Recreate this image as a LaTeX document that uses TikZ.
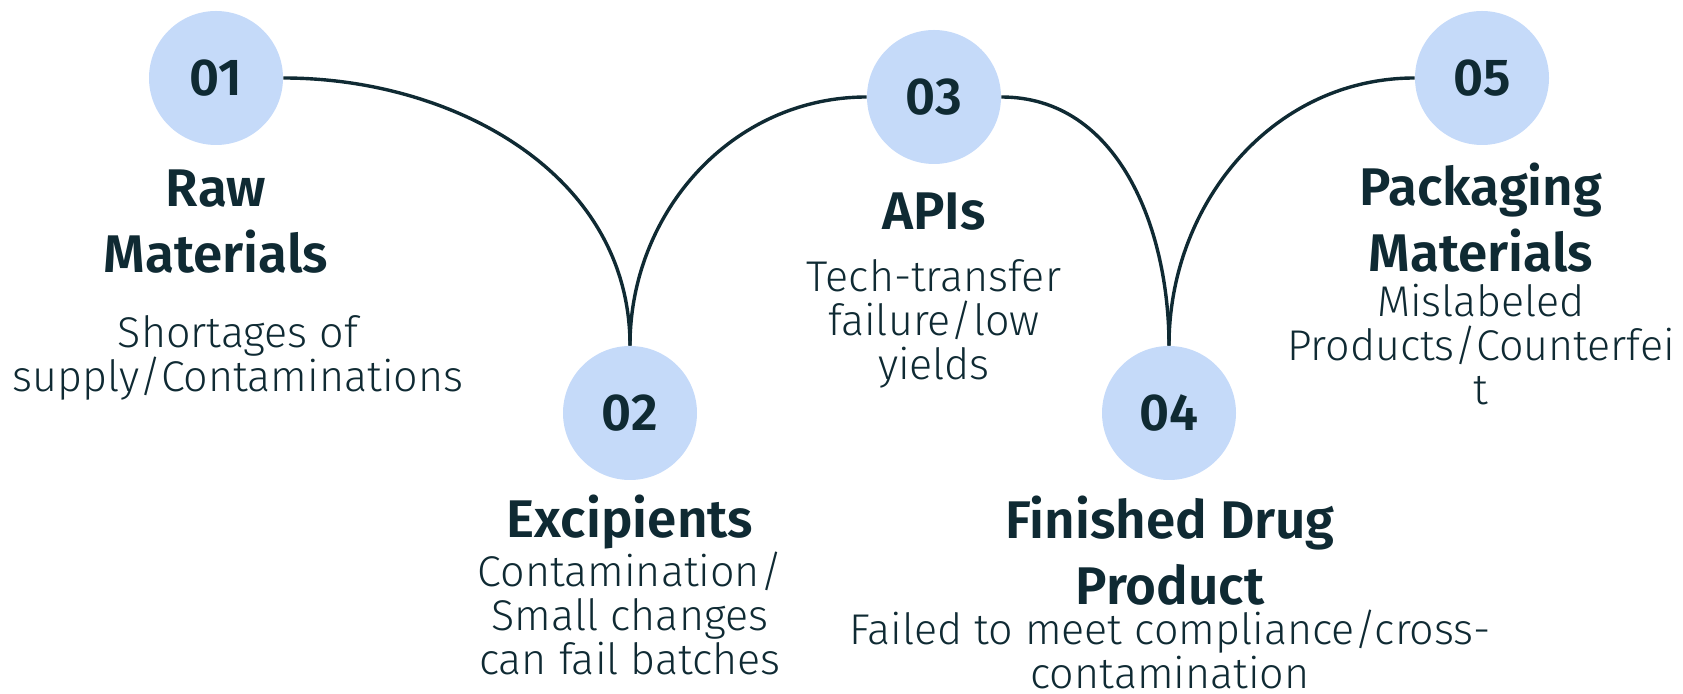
\documentclass[tikz,border=0pt]{standalone}
\usepackage{fontspec}
\setmainfont{Fira Sans}[UprightFont=* Light, BoldFont=* SemiBold]
\definecolor{ink}{HTML}{0F2A33}
\definecolor{stepblue}{HTML}{C5DAF9}

\begin{document}
\begin{tikzpicture}[
  x=0.5pt, y=0.5pt,
  num/.style={circle, fill=stepblue, minimum size=67pt, inner sep=0pt,
    text=ink, font=\bfseries\fontsize{26}{26}\selectfont},
  title/.style={anchor=base, align=center, inner sep=0pt, text=ink,
    font=\bfseries\fontsize{26.5}{33}\selectfont},
  desc/.style={anchor=base, align=center, inner sep=0pt, text=ink,
    font=\fontsize{21.5}{22.2}\selectfont},
  link/.style={draw=ink, line width=1.7pt}
]
  \useasboundingbox (0,0) rectangle (1683,-694);

  % numbered steps
  \node[num] (s1) at (216,-78) {01};
  \node[num] (s2) at (630,-413) {02};
  \node[num] (s3) at (934,-97) {03};
  \node[num] (s4) at (1169,-413) {04};
  \node[num] (s5) at (1482,-78) {05};

  % the wave through the steps
  \draw[link] (s1) to[out=0, in=90] (s2);
  \draw[link] (s2) to[out=90, in=180] (s3);
  \draw[link] (s3) to[out=0, in=90] (s4);
  \draw[link] (s4) to[out=90, in=180] (s5);

  % titles (anchored on the last line)
  \node[title] (t1) at (216,-273) {Raw\\Materials};
  \node[title] (t2) at (630,-538) {Excipients};
  \node[title] (t3) at (934,-230) {APIs};
  \node[title] (t4) at (1170,-605) {Finished Drug\\Product};
  \node[title] (t5) at (1481,-272) {Packaging\\Materials};

  % risks
  \node[desc] (d1) at (238,-392) {Shortages of\\supply/Contaminations};
  \node[desc] (d2) at (630,-675) {Contamination/\\Small changes\\can fail batches};
  \node[desc] (d3) at (934,-380) {Tech-transfer\\failure/low\\yields};
  \node[desc] (d4) at (1170,-689) {Failed to meet compliance/cross-\\contamination};
  \node[desc] (d5) at (1481,-405) {Mislabeled\\Products/Counterfei\\t};
\end{tikzpicture}
\end{document}
